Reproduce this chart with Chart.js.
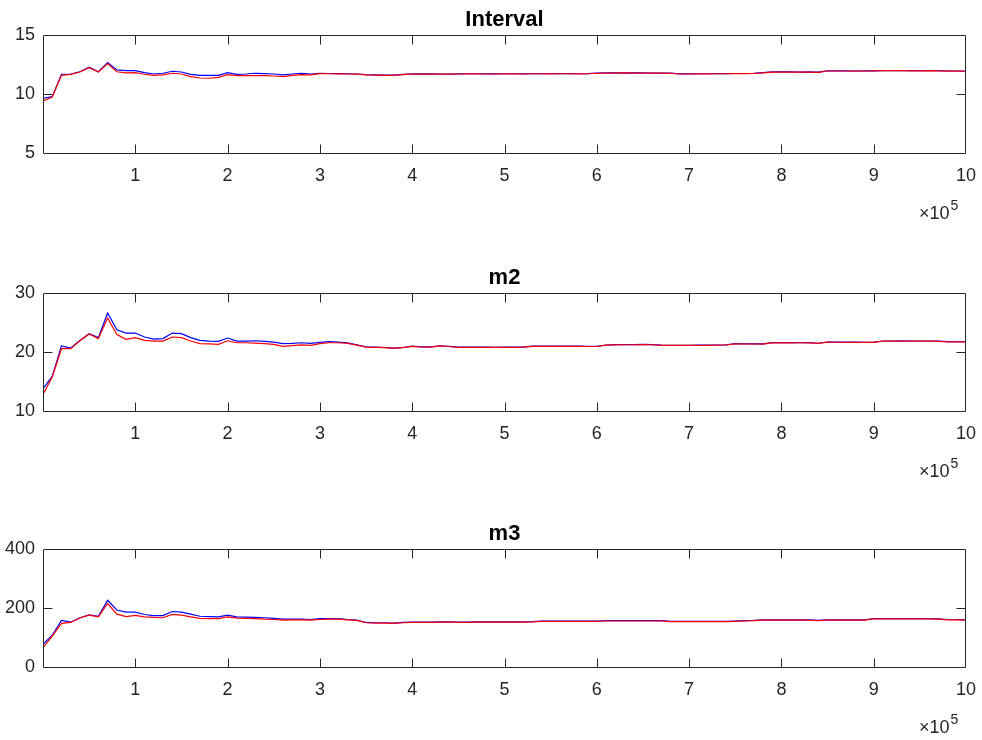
<!DOCTYPE html>
<html>
<head>
<meta charset="utf-8">
<script src="https://cdn.jsdelivr.net/npm/chart.js@4/dist/chart.umd.min.js"></script>
<style>
  html, body { margin: 0; padding: 0; background: #ffffff; }
  body { width: 982px; height: 740px; position: relative; overflow: hidden; }
  canvas { position: absolute; left: 0; }
</style>
</head>
<body>
<canvas id="c1" width="982" height="247" style="top:0px"></canvas>
<canvas id="c2" width="982" height="247" style="top:258px"></canvas>
<canvas id="c3" width="982" height="247" style="top:514px"></canvas>
<script>
// ---------- data ----------
const iterations = [0,1e4,2e4,3e4,4e4,5e4,6e4,7e4,8e4,9e4,10e4,11e4,12e4,13e4,14e4,15e4,16e4,17e4,18e4,19e4,
  20e4,21e4,22e4,23e4,24e4,25e4,26e4,27e4,28e4,29e4,30e4,31e4,32e4,33e4,34e4,35e4,36e4,37e4,38e4,39e4,
  40e4,41e4,42e4,43e4,44e4,45e4,46e4,47e4,48e4,49e4,50e4,51e4,52e4,53e4,54e4,55e4,56e4,57e4,58e4,59e4,
  60e4,61e4,62e4,63e4,64e4,65e4,66e4,67e4,68e4,69e4,70e4,71e4,72e4,73e4,74e4,75e4,76e4,77e4,78e4,79e4,
  80e4,81e4,82e4,83e4,84e4,85e4,86e4,87e4,88e4,89e4,90e4,91e4,92e4,93e4,94e4,95e4,96e4,97e4,98e4,99e4,100e4];

const intervalBlue = [9.66,9.80,11.69,11.71,11.90,12.28,11.90,12.67,12.05,11.99,
  11.99,11.82,11.71,11.77,11.94,11.88,11.68,11.60,11.60,11.60,
  11.83,11.68,11.71,11.77,11.74,11.71,11.63,11.71,11.77,11.71,
  11.77,11.75,11.74,11.73,11.71,11.65,11.63,11.62,11.61,11.68,
  11.73,11.72,11.72,11.71,11.70,11.72,11.73,11.73,11.72,11.72,
  11.73,11.73,11.72,11.74,11.74,11.73,11.74,11.74,11.73,11.74,
  11.78,11.80,11.80,11.81,11.80,11.80,11.79,11.79,11.78,11.72,
  11.72,11.73,11.73,11.74,11.74,11.75,11.75,11.76,11.82,11.88,
  11.88,11.88,11.87,11.88,11.86,11.97,11.97,11.97,11.96,11.97,
  11.98,12.00,12.00,12.00,11.99,11.99,12.00,11.99,11.96,11.96,11.95];
const intervalRed = [9.44,9.77,11.60,11.68,11.88,12.25,11.88,12.60,11.90,11.80,
  11.83,11.69,11.60,11.63,11.77,11.71,11.49,11.37,11.35,11.43,
  11.66,11.57,11.57,11.57,11.57,11.54,11.49,11.60,11.66,11.63,
  11.74,11.73,11.72,11.71,11.69,11.63,11.61,11.60,11.59,11.66,
  11.71,11.70,11.70,11.70,11.69,11.71,11.72,11.72,11.71,11.71,
  11.72,11.72,11.71,11.73,11.73,11.72,11.73,11.73,11.72,11.73,
  11.77,11.79,11.79,11.80,11.79,11.79,11.78,11.78,11.77,11.71,
  11.71,11.72,11.72,11.73,11.73,11.74,11.74,11.75,11.81,11.87,
  11.87,11.87,11.86,11.87,11.85,11.96,11.96,11.96,11.95,11.96,
  11.97,11.99,11.99,11.99,11.98,11.98,11.99,11.98,11.95,11.95,11.94];

const m2Blue = [13.85,15.93,21.05,20.71,22.00,23.14,22.46,26.62,23.80,23.24,
  23.24,22.57,22.23,22.30,23.24,23.14,22.46,22.00,21.89,21.84,
  22.40,21.89,21.89,21.94,21.84,21.72,21.45,21.50,21.60,21.50,
  21.67,21.78,21.72,21.60,21.25,20.90,20.85,20.80,20.68,20.80,
  21.02,20.92,20.90,21.10,21.00,20.85,20.86,20.85,20.85,20.84,
  20.85,20.86,20.88,21.02,21.03,21.02,21.02,21.03,21.02,21.00,
  21.00,21.22,21.28,21.30,21.30,21.32,21.30,21.20,21.18,21.18,
  21.18,21.19,21.20,21.22,21.25,21.45,21.42,21.42,21.40,21.62,
  21.62,21.62,21.63,21.62,21.52,21.73,21.72,21.70,21.70,21.68,
  21.70,21.90,21.90,21.91,21.90,21.90,21.90,21.88,21.78,21.78,21.78];
const m2Red = [12.89,15.81,20.60,20.60,21.94,23.08,22.30,25.78,22.97,22.18,
  22.46,22.00,21.89,21.89,22.57,22.46,21.89,21.45,21.40,21.34,
  21.94,21.60,21.60,21.55,21.45,21.34,21.00,21.11,21.23,21.17,
  21.45,21.60,21.60,21.50,21.20,20.87,20.82,20.77,20.65,20.77,
  20.99,20.89,20.87,21.07,20.97,20.82,20.83,20.82,20.82,20.81,
  20.82,20.83,20.85,20.99,21.00,20.99,20.99,21.00,20.99,20.97,
  20.97,21.19,21.25,21.27,21.27,21.29,21.27,21.17,21.15,21.15,
  21.15,21.16,21.17,21.19,21.22,21.42,21.39,21.39,21.37,21.59,
  21.59,21.59,21.60,21.59,21.49,21.70,21.69,21.67,21.67,21.65,
  21.67,21.87,21.87,21.88,21.87,21.87,21.87,21.85,21.75,21.75,21.75];

const m3Blue = [78,109,159,153,168,178,173,227,194,187,
  187,179,175,175,189,187,180,173,172,171,
  177,171,170,169,168,166,163,163,163,162,
  165,165,165,162,160,152,151,151,150,152,
  153,153,153,154,154,153,153,154,154,154,
  154,154,154,155,157,157,157,157,157,157,
  157,158,158,158,158,158,158,158,156,156,
  156,156,156,156,156,157,158,159,161,161,
  161,161,161,161,159,161,161,161,161,161,
  165,165,165,165,165,165,165,164,162,162,161];
const m3Red = [67,106,149,152,167,177,171,216,180,172,
  176,171,169,168,179,177,171,166,165,165,
  171,167,166,165,163,162,160,161,161,160,
  162,163,163,161,159,151,150,150,149,151,
  152,152,152,153,153,152,152,153,153,153,
  153,153,153,154,156,156,156,156,156,156,
  156,157,157,157,157,157,157,157,155,155,
  155,155,155,155,155,156,157,158,160,160,
  160,160,160,160,158,160,160,160,160,160,
  164,164,164,164,164,164,164,163,161,161,160];

const titles = ['Interval', 'm2', 'm3'];
const xTicks = [1e5,2e5,3e5,4e5,5e5,6e5,7e5,8e5,9e5,10e5];
const xTickLabels = ['1','2','3','4','5','6','7','8','9','10'];
const xExponent = '5';
const intervalTicks = [5, 10, 15];
const m2Ticks = [10, 20, 30];
const m3Ticks = [0, 200, 400];

// ---------- drawing ----------
const FONT = '"Liberation Sans", Arial, Helvetica, sans-serif';
const AXIS_COLOR = '#262626';
const TICK_FONT = 18;
const TICK_LEN = 9;
const AREA = { left: 43, right: 966, top: 35, bottom: 153.5 };

const matlabAxes = {
  id: 'matlabAxes',
  afterDraw(chart) {
    const ctx = chart.ctx;
    const a = chart.chartArea;
    const xs = chart.scales.x, ys = chart.scales.y;
    ctx.save();
    ctx.strokeStyle = AXIS_COLOR;
    ctx.lineWidth = 1;
    const L = Math.round(a.left) + 0.5, R = Math.round(a.right) - 0.5;
    const T = Math.round(a.top) + 0.5, B = Math.round(a.bottom) - 0.5;
    ctx.beginPath();
    ctx.rect(L, T, R - L, B - T);
    xs.ticks.forEach(t => {
      if (t.value <= xs.min || t.value >= xs.max) return;
      const px = Math.round(xs.getPixelForValue(t.value)) + 0.5;
      ctx.moveTo(px, B); ctx.lineTo(px, B - TICK_LEN);
      ctx.moveTo(px, T); ctx.lineTo(px, T + TICK_LEN);
    });
    ys.ticks.forEach(t => {
      if (t.value <= ys.min || t.value >= ys.max) return;
      const py = Math.round(ys.getPixelForValue(t.value)) + 0.5;
      ctx.moveTo(L, py); ctx.lineTo(L + TICK_LEN, py);
      ctx.moveTo(R, py); ctx.lineTo(R - TICK_LEN, py);
    });
    ctx.stroke();
    // axis exponent label  x10^5
    ctx.fillStyle = AXIS_COLOR;
    ctx.textBaseline = 'alphabetic';
    ctx.textAlign = 'left';
    ctx.font = TICK_FONT + 'px ' + FONT;
    const baseY = a.bottom + 65;
    const startX = a.right - 47;
    ctx.fillText('\u00D710', startX, baseY);
    const w = ctx.measureText('\u00D710').width;
    ctx.font = Math.round(TICK_FONT * 0.75) + 'px ' + FONT;
    ctx.fillText(xExponent, startX + w + 1, baseY - 9);
    ctx.restore();
  }
};

function makeChart(id, title, blue, red, yTicks) {
  const canvasH = 247;
  const chart = new Chart(document.getElementById(id), {
    type: 'line',
    data: {
      datasets: [
        { data: iterations.map((x, i) => ({x, y: blue[i]})), borderColor: '#0000ff', borderWidth: 1.2, pointRadius: 0, tension: 0, order: 1 },
        { data: iterations.map((x, i) => ({x, y: red[i]})), borderColor: '#ff0000', borderWidth: 1.2, pointRadius: 0, tension: 0, order: 0 }
      ]
    },
    options: {
      responsive: false,
      animation: false,
      devicePixelRatio: 1,
      layout: { padding: { left: 0, right: 982 - AREA.right, top: 0, bottom: 0 } },
      plugins: {
        legend: { display: false },
        tooltip: { enabled: false },
        title: {
          display: true, text: title, color: '#000000', fullSize: false,
          font: { family: FONT, size: 22, weight: 'bold', lineHeight: 1.2 },
          padding: { top: 7, bottom: AREA.top - 7 - 26.4 }
        }
      },
      scales: {
        x: {
          type: 'linear', min: iterations[0], max: iterations[iterations.length - 1],
          grid: { display: false, drawTicks: false },
          border: { display: false },
          afterBuildTicks: (s) => { s.ticks = xTicks.map(v => ({ value: v })); },
          afterFit: (s) => { s.height = canvasH - AREA.bottom; s.paddingLeft = 0; s.paddingRight = 0; },
          ticks: {
            autoSkip: false, maxRotation: 0, padding: 12, color: AXIS_COLOR,
            font: { family: FONT, size: TICK_FONT },
            callback: (v) => { const i = xTicks.indexOf(v); return i >= 0 ? xTickLabels[i] : ''; }
          }
        },
        y: {
          min: yTicks[0], max: yTicks[yTicks.length - 1],
          grid: { display: false, drawTicks: false },
          border: { display: false },
          afterBuildTicks: (s) => { s.ticks = yTicks.map(v => ({ value: v })); },
          afterFit: (s) => { s.width = AREA.left; },
          ticks: {
            padding: 8, color: AXIS_COLOR,
            font: { family: FONT, size: TICK_FONT },
            callback: (v) => String(v)
          }
        }
      }
    },
    plugins: [matlabAxes]
  });
  // nudge layout padding so the plot box lands exactly where the reference has it
  for (let k = 0; k < 3; k++) {
    const a = chart.chartArea;
    const p = Object.assign({}, chart.config.options.layout.padding);
    const dr = a.right - AREA.right, dl = a.left - AREA.left;
    const dt = a.top - AREA.top, db = a.bottom - AREA.bottom;
    if (Math.abs(dr) < 0.25 && Math.abs(dt) < 0.25 && Math.abs(db) < 0.25 && Math.abs(dl) < 0.25) break;
    p.right = Math.max(0, p.right + dr);
    p.left = Math.max(0, p.left - dl);
    p.top = Math.max(0, p.top - dt);
    p.bottom = Math.max(0, p.bottom + db);
    chart.config.options.layout.padding = p;
    chart.update('none');
  }
  return chart;
}

makeChart('c1', titles[0], intervalBlue, intervalRed, intervalTicks);
makeChart('c2', titles[1], m2Blue, m2Red, m2Ticks);
makeChart('c3', titles[2], m3Blue, m3Red, m3Ticks);
</script>
</body>
</html>
